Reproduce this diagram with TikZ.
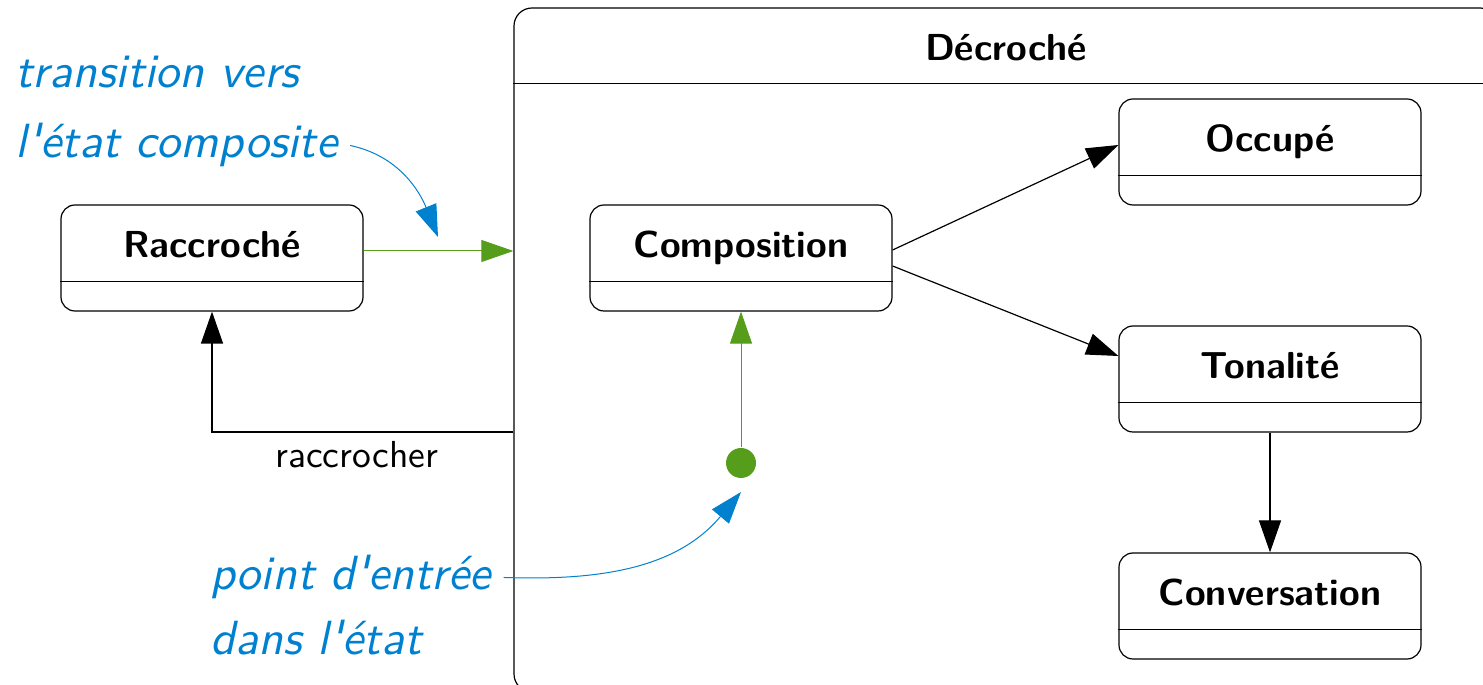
\documentclass[tikz,border=0pt]{standalone}
\usepackage{fontspec}
\setsansfont{lmsans10-regular.otf}[BoldFont=lmsans10-bold.otf, ItalicFont=lmsans10-oblique.otf, BoldItalicFont=lmsans10-boldoblique.otf]
\usepackage{tikz}
\usetikzlibrary{arrows.meta}
\renewcommand{\familydefault}{\sfdefault}
\definecolor{bleu}{RGB}{0,129,207}
\definecolor{vert}{RGB}{87,157,28}
\newcommand{\grand}{\fontsize{18.8pt}{22pt}\selectfont}

\tikzset{
  etat/.style={draw, rounded corners=7pt, minimum width=151pt, minimum height=53pt,
    text height=9pt, text depth=9pt, font=\grand\bfseries},
  fleche/.style={-{Triangle[length=16pt,width=11pt]}},
  note/.style={bleu, font=\fontsize{24pt}{28pt}\selectfont\itshape, anchor=base west, inner sep=6pt},
}

\begin{document}
\begin{tikzpicture}[x=0.5pt, y=0.5pt, line width=0.6pt]
  \useasboundingbox (0,0) rectangle (1483,685);

  % Etat composite
  \node[draw, rounded corners=9pt, minimum width=492pt, minimum height=342pt] (decroche) at (1006,335) {};
  \draw ([yshift=-38pt]decroche.north west) -- ([yshift=-38pt]decroche.north east);
  \node[font=\grand\bfseries] (titre) at ([yshift=-20pt]decroche.north) {Décroché};

  % Etats
  \node[etat] (racc) at (212,427) {Raccroché};
  \node[etat] (compo) at (741,427) {Composition};
  \node[etat] (occupe) at (1270,533) {Occupé};
  \node[etat] (tonalite) at (1270,306) {Tonalité};
  \node[etat] (conv) at (1270,79) {Conversation};
  \foreach \n in {racc, compo, occupe, tonalite, conv}
    \draw ([yshift=15pt]\n.south west) -- ([yshift=15pt]\n.south east);

  % Transitions
  \coordinate (depart) at ([yshift=3.5pt]racc.east);
  \draw[fleche, vert, line width=0.5pt] (depart) -- (depart -| decroche.west);
  \coordinate (sortie) at (decroche.west |- 0,253);
  \draw[fleche] (sortie) -| (racc.south) node[pos=0.26, below=1pt, font=\grand] {raccrocher};
  \draw[fleche] ([yshift=4pt]compo.east) -- ([yshift=3.5pt]occupe.west);
  \draw[fleche] ([yshift=-4pt]compo.east) -- ([yshift=11.5pt]tonalite.west);
  \draw[fleche] (tonalite) -- (conv);

  % Point d'entree
  \node[circle, fill=vert, minimum size=15pt, inner sep=0pt] (point) at (741,222) {};
  \draw[fleche, vert, line width=0.5pt] (point) -- (compo);

  % Notes
  \node[note] (transA) at (3,597) {transition vers};
  \node[note] (transB) at (3,527) {l\textquotesingle état composite};
  \coordinate (cibleA) at (438,448);
  \draw[fleche, bleu, line width=0.5pt] (transB.east) to[out=-12, in=112] (cibleA);

  \node[note] (pointA) at (198,95) {point d\textquotesingle entrée};
  \node[note] (pointB) at (198,30) {dans l\textquotesingle état};
  \coordinate (cibleB) at (741,193);
  \draw[fleche, bleu, line width=0.5pt] (pointA.east) to[out=-2, in=230] (cibleB);
\end{tikzpicture}
\end{document}
